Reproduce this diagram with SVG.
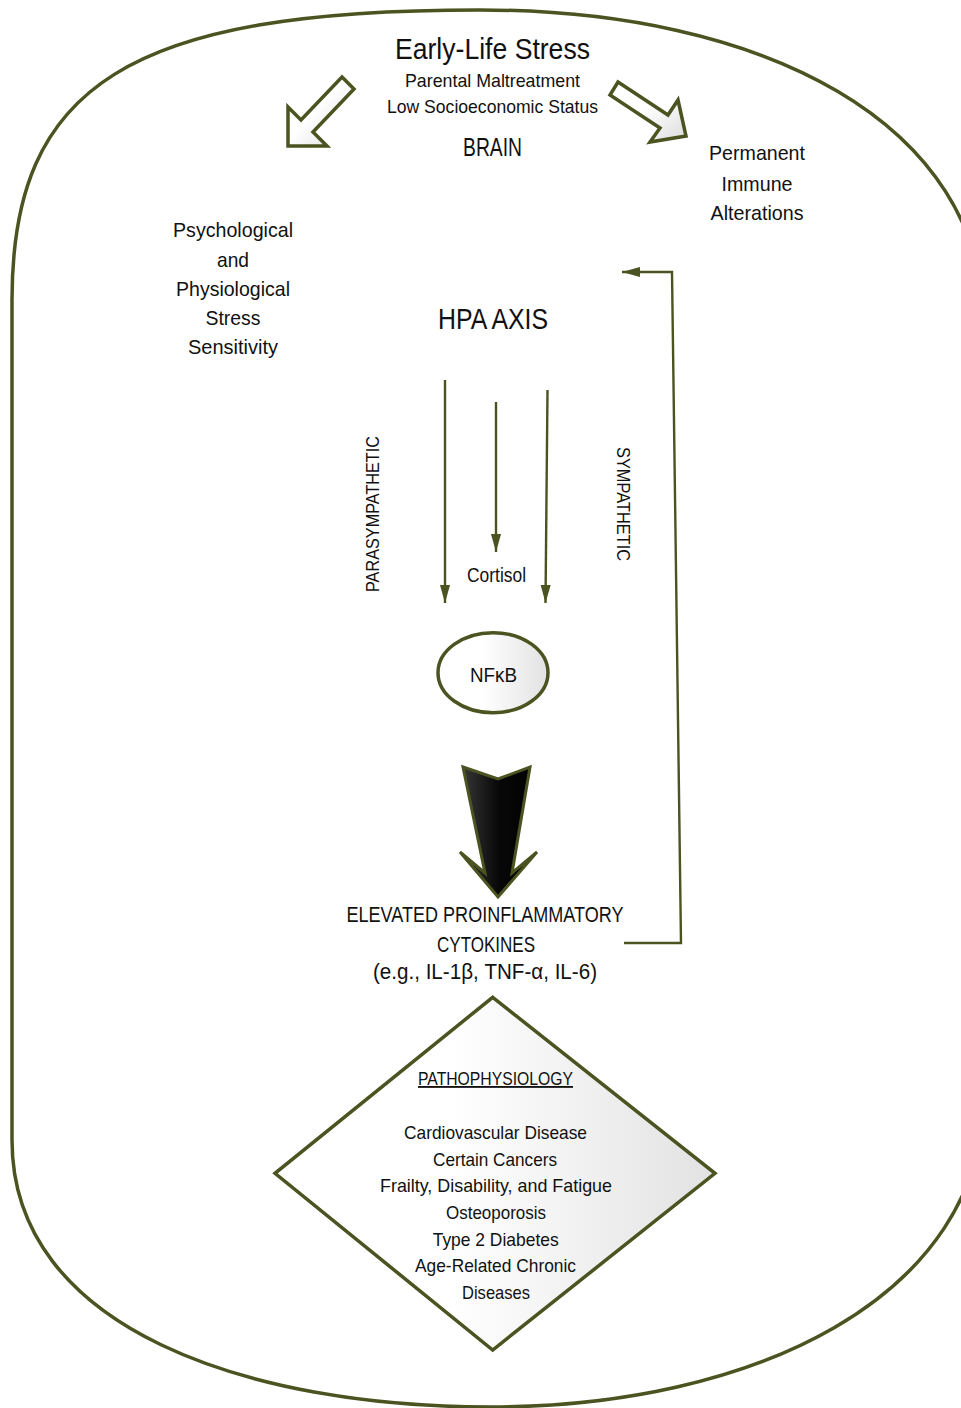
<svg xmlns="http://www.w3.org/2000/svg" width="961" height="1408" viewBox="0 0 961 1408">
<style>
text{font-family:"Liberation Sans",Arial,sans-serif;fill:#111;text-anchor:middle}
.conn{stroke:#4b5320;stroke-width:2.4;fill:none}
.outline{stroke:#4b5320;stroke-width:3.5;stroke-linejoin:miter}
</style>
<defs>
<linearGradient id="lightFill" x1="0" y1="0" x2="1" y2="1">
<stop offset="0" stop-color="#ffffff"/>
<stop offset="0.45" stop-color="#ffffff"/>
<stop offset="1" stop-color="#dcdcdc"/>
</linearGradient>
<linearGradient id="diamondFill" x1="0" y1="0" x2="1" y2="0">
<stop offset="0" stop-color="#ffffff"/>
<stop offset="0.4" stop-color="#ffffff"/>
<stop offset="1" stop-color="#e2e2e2"/>
</linearGradient>
<linearGradient id="darkFill" x1="0" y1="0" x2="1" y2="0">
<stop offset="0" stop-color="#3a3a3a"/>
<stop offset="0.5" stop-color="#080808"/>
<stop offset="1" stop-color="#000000"/>
</linearGradient>
<marker id="arr" markerUnits="userSpaceOnUse" markerWidth="18" markerHeight="12" refX="18" refY="5" orient="auto">
<path d="M0,0 L18,5 L0,10 Z" fill="#4b5320"/>
</marker>
</defs>

<g id="outer-boundary">
<path d="M 12 300 C 12 85 129 10 480 10 C 760 10 985 120 985 330 L 985 1090 C 985 1300 750 1407 490 1407 C 250 1407 12 1330 12 1140 Z" fill="none" stroke="#4b5320" stroke-width="3.5"/>
</g>

<g id="early-life-stress">
<text x="492.5" y="59" font-size="30" textLength="195" lengthAdjust="spacingAndGlyphs">Early-Life Stress</text>
<text x="492.5" y="87" font-size="19" textLength="175" lengthAdjust="spacingAndGlyphs">Parental Maltreatment</text>
<text x="492.5" y="113" font-size="19" textLength="211" lengthAdjust="spacingAndGlyphs">Low Socioeconomic Status</text>
</g>

<g id="brain">
<text x="492.5" y="156" font-size="26" textLength="59" lengthAdjust="spacingAndGlyphs">BRAIN</text>
</g>

<g id="arrow-left">
<polygon points="342,77 354,89 313,132 327,146 288,146 288,107 301,120" fill="url(#lightFill)" class="outline"/>
</g>

<g id="arrow-right">
<polygon points="618,82 668,115 678,100 686,136 650,142 660,128 610,95" fill="url(#lightFill)" class="outline"/>
</g>

<g id="permanent-immune">
<text x="757" y="160" font-size="21" textLength="96" lengthAdjust="spacingAndGlyphs">Permanent</text>
<text x="757" y="190.5" font-size="21" textLength="71" lengthAdjust="spacingAndGlyphs">Immune</text>
<text x="757" y="219.5" font-size="21" textLength="93" lengthAdjust="spacingAndGlyphs">Alterations</text>
</g>

<g id="stress-sensitivity">
<text x="233" y="237" font-size="21" textLength="120" lengthAdjust="spacingAndGlyphs">Psychological</text>
<text x="233" y="266.5" font-size="21" textLength="32" lengthAdjust="spacingAndGlyphs">and</text>
<text x="233" y="296" font-size="21" textLength="114" lengthAdjust="spacingAndGlyphs">Physiological</text>
<text x="233" y="325" font-size="21" textLength="55" lengthAdjust="spacingAndGlyphs">Stress</text>
<text x="233" y="354" font-size="21" textLength="90" lengthAdjust="spacingAndGlyphs">Sensitivity</text>
</g>

<g id="hpa-axis">
<text x="493" y="329" font-size="30" textLength="110" lengthAdjust="spacingAndGlyphs">HPA AXIS</text>
</g>

<g id="connectors">
<line x1="445" y1="380" x2="445" y2="603" class="conn" marker-end="url(#arr)"/>
<line x1="496" y1="402" x2="496" y2="552" class="conn" marker-end="url(#arr)"/>
<line x1="547.5" y1="390" x2="545.5" y2="603" class="conn" marker-end="url(#arr)"/>
<polyline points="624,943 681,943 672,272 622,272" class="conn" marker-end="url(#arr)"/>
</g>

<g id="label-parasympathetic">
<text transform="translate(379,514) rotate(-90)" x="0" y="0" font-size="19" textLength="156" lengthAdjust="spacingAndGlyphs">PARASYMPATHETIC</text>
</g>

<g id="label-sympathetic">
<text transform="translate(617,504) rotate(90)" x="0" y="0" font-size="18" textLength="114" lengthAdjust="spacingAndGlyphs">SYMPATHETIC</text>
</g>

<g id="cortisol">
<text x="496.5" y="582" font-size="20" textLength="59" lengthAdjust="spacingAndGlyphs">Cortisol</text>
</g>

<g id="nfkb">
<ellipse cx="493" cy="672.7" rx="55" ry="40" fill="url(#diamondFill)" stroke="#4b5320" stroke-width="3.5"/>
<text x="493.5" y="681.7" font-size="21" textLength="47" lengthAdjust="spacingAndGlyphs">NFκB</text>
</g>

<g id="big-arrow">
<polygon points="463,767 498,779 530,767 512,873 537,852 498,897 460,852 485,873" fill="url(#darkFill)" stroke="#4b5320" stroke-width="3" stroke-linejoin="miter"/>
</g>

<g id="cytokines">
<text x="485" y="921.7" font-size="22" textLength="277" lengthAdjust="spacingAndGlyphs">ELEVATED PROINFLAMMATORY</text>
<text x="486" y="951.7" font-size="22" textLength="98" lengthAdjust="spacingAndGlyphs">CYTOKINES</text>
<text x="485" y="979" font-size="22" textLength="224" lengthAdjust="spacingAndGlyphs">(e.g., IL-1β, TNF-α, IL-6)</text>
</g>

<g id="pathophysiology">
<polygon points="492.7,997.3 715,1173.3 492.7,1350 275,1173.3" fill="url(#diamondFill)" class="outline"/>
<text x="495.5" y="1085" font-size="18.5" textLength="155" lengthAdjust="spacingAndGlyphs" text-decoration="underline">PATHOPHYSIOLOGY</text>
<text x="495.5" y="1139" font-size="18.5" textLength="183" lengthAdjust="spacingAndGlyphs">Cardiovascular Disease</text>
<text x="495" y="1165.7" font-size="18.5" textLength="124" lengthAdjust="spacingAndGlyphs">Certain Cancers</text>
<text x="496" y="1192.3" font-size="18.5" textLength="232" lengthAdjust="spacingAndGlyphs">Frailty, Disability, and Fatigue</text>
<text x="496" y="1219" font-size="18.5" textLength="100" lengthAdjust="spacingAndGlyphs">Osteoporosis</text>
<text x="495.7" y="1245.7" font-size="18.5" textLength="126" lengthAdjust="spacingAndGlyphs">Type 2 Diabetes</text>
<text x="495.5" y="1272.3" font-size="18.5" textLength="161" lengthAdjust="spacingAndGlyphs">Age-Related Chronic</text>
<text x="496" y="1299" font-size="18.5" textLength="68" lengthAdjust="spacingAndGlyphs">Diseases</text>
</g>
</svg>
